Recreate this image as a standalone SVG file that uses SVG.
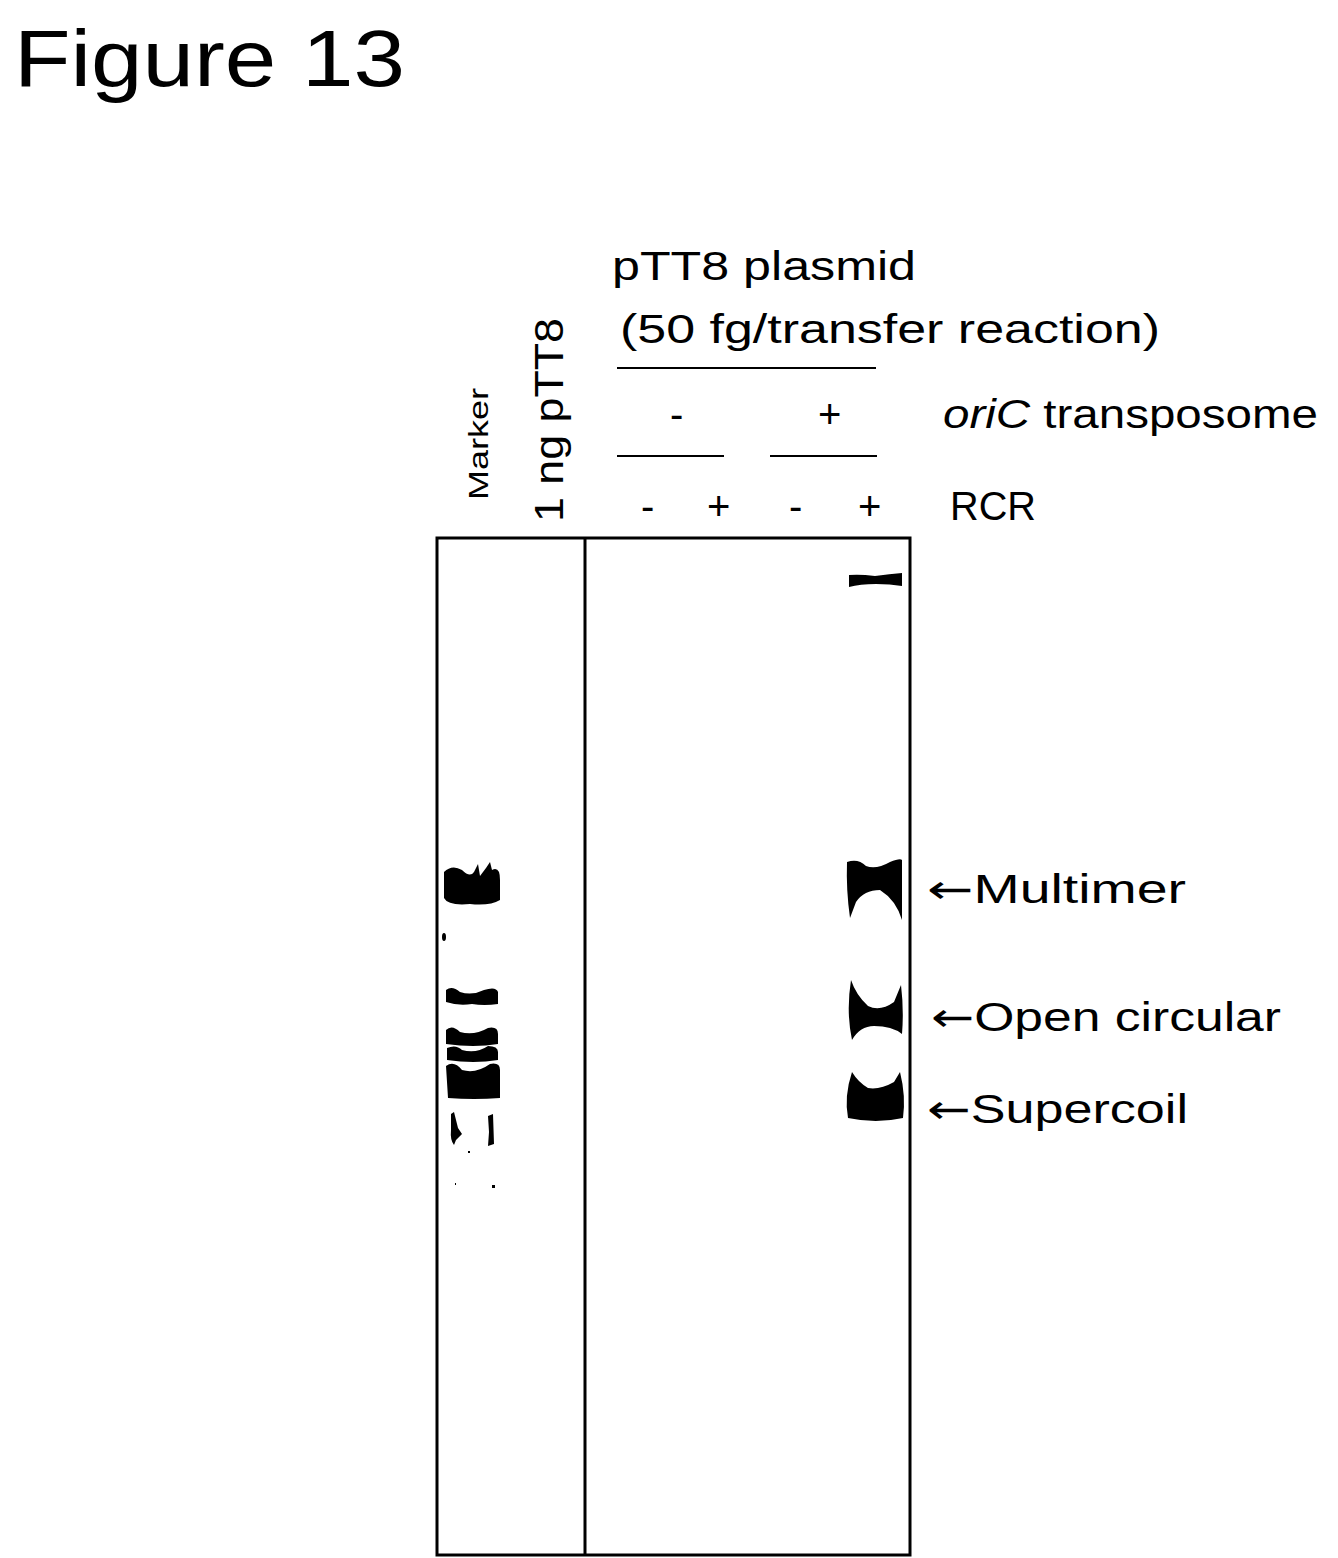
<svg xmlns="http://www.w3.org/2000/svg" width="1338" height="1558" viewBox="0 0 1338 1558">
<style>
text{font-family:"Liberation Sans",Arial,sans-serif;fill:#000}
.c{font-family:"Open Sans","Liberation Sans",sans-serif;font-size:40px}
.a{font-family:"DejaVu Sans",sans-serif}
.b{fill:#000}
</style>
<rect width="1338" height="1558" fill="#fff"/>
<text x="14" y="86" font-size="80" textLength="391" lengthAdjust="spacingAndGlyphs">Figure 13</text>
<g id="headers" class="c">
<text x="612" y="280" textLength="304" lengthAdjust="spacingAndGlyphs">pTT8  plasmid</text>
<text x="620" y="343" textLength="540" lengthAdjust="spacingAndGlyphs">(50 fg/transfer reaction)</text>
<line x1="617" y1="368" x2="876" y2="368" stroke="#000" stroke-width="2"/>
<text x="670" y="428">-</text>
<text x="818" y="428">+</text>
<text x="943" y="428" textLength="375" lengthAdjust="spacingAndGlyphs"><tspan font-style="italic">oriC</tspan> transposome</text>
<line x1="617" y1="456" x2="724" y2="456" stroke="#000" stroke-width="2"/>
<line x1="770" y1="456" x2="877" y2="456" stroke="#000" stroke-width="2"/>
<text x="641" y="520">-</text>
<text x="707" y="520">+</text>
<text x="789" y="520">-</text>
<text x="858" y="520">+</text>
<text x="950" y="520" textLength="86" lengthAdjust="spacingAndGlyphs">RCR</text>
<text transform="translate(488,500) rotate(-90)" font-size="28" textLength="112" lengthAdjust="spacingAndGlyphs">Marker</text>
<text transform="translate(563,522) rotate(-90)" textLength="204" lengthAdjust="spacingAndGlyphs">1 ng pTT8</text>
</g>
<g id="gel">
<rect x="437" y="538" width="473" height="1017" fill="none" stroke="#000" stroke-width="3"/>
<line x1="585" y1="538" x2="585" y2="1555" stroke="#000" stroke-width="3"/>
</g>
<g id="marker-bands" class="b">
<path d="M444,872 Q452,864 462,870 Q470,878 474,872 L478,864 L480,876 L486,868 L490,862 L492,870 Q500,866 500,880 L500,900 Q490,906 470,904 Q448,906 444,898 Z"/>
<ellipse cx="444" cy="937" rx="2" ry="4"/>
<path d="M446,990 Q452,985 460,992 Q472,996 484,990 Q496,986 498,992 L498,1004 Q484,1006 472,1004 Q458,1006 446,1002 Z"/>
<path d="M446,1030 Q452,1024 460,1032 Q474,1036 488,1028 Q498,1026 498,1034 L498,1044 Q474,1048 446,1044 Z"/>
<path d="M447,1048 Q456,1044 462,1050 Q476,1054 488,1046 Q498,1046 498,1052 L498,1060 Q474,1064 447,1060 Z"/>
<path d="M446,1066 Q454,1060 462,1070 Q476,1074 490,1064 Q500,1062 500,1070 L500,1098 Q474,1100 448,1098 Z"/>
<path d="M451,1114 L454,1112 L458,1128 L462,1134 L456,1140 L454,1145 Q450,1140 451,1130 Z"/>
<path d="M488,1116 L493,1114 L494,1144 L488,1146 L489,1132 Z"/>
<rect x="468" y="1151" width="2" height="2"/>
<rect x="455" y="1183" width="1" height="2"/>
<rect x="492" y="1185" width="3" height="3"/>
</g>
<g id="rcr-bands" class="b">
<path d="M849,575 Q860,574 875,576 Q890,574 902,573 L902,586 Q890,584 876,584 Q860,584 849,587 Z"/>
<path d="M847,862 Q858,858 866,866 Q876,870 890,862 Q900,858 902,860 L902,920 Q896,900 880,890 Q864,890 856,902 L850,918 Q846,890 847,862 Z"/>
<path d="M851,980 Q856,995 868,1006 Q880,1012 894,1002 L901,985 Q904,1010 902,1034 Q892,1026 874,1026 Q860,1026 852,1040 Q846,1012 851,980 Z"/>
<path d="M852,1072 Q858,1082 868,1088 Q880,1090 894,1082 L900,1072 Q906,1096 903,1118 Q876,1124 848,1118 Q844,1096 852,1072 Z"/>
</g>
<g id="labels" class="c">
<text x="927" y="903" textLength="259" lengthAdjust="spacingAndGlyphs"><tspan class="a">←</tspan>Multimer</text>
<text x="931" y="1031" textLength="350" lengthAdjust="spacingAndGlyphs"><tspan class="a">←</tspan>Open circular</text>
<text x="927" y="1123" textLength="261" lengthAdjust="spacingAndGlyphs"><tspan class="a">←</tspan>Supercoil</text>
</g>
</svg>
